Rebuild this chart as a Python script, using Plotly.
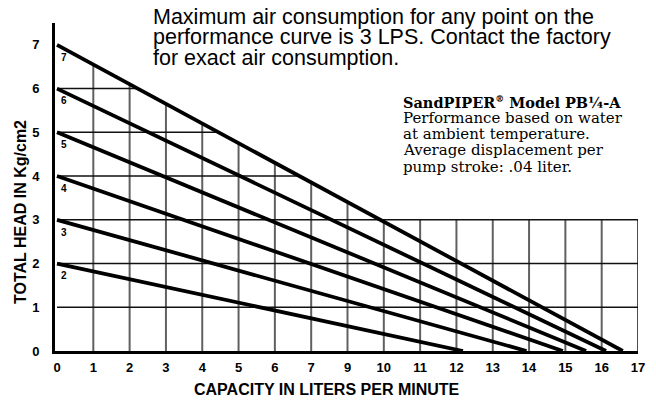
import plotly.graph_objects as go

# ---- data ----
curve_labels = ["2", "3", "4", "5", "6", "7"]
head_at_zero_flow = [2, 3, 4, 5, 6, 7]                            # Kg/cm2 at x = 0
flow_at_zero_head = [11.18, 12.93, 13.93, 14.57, 15.12, 15.58]    # axis position where curve hits 0
x_tick_positions = list(range(17))
x_tick_labels = ["0", "1", "2", "3", "4", "5", "6", "7", "9", "10", "11",
                 "12", "13", "14", "15", "16", "17"]
y_tick_values = [0, 1, 2, 3, 4, 5, 6, 7]

note_lines = ["Maximum air consumption for any point on the",
              "performance curve is 3 LPS. Contact the factory",
              "for exact air consumption."]
model_title = "<b>SandPIPER<sup><span style='font-size:9px'>®</span></sup> Model PB¼-A</b>"
model_lines = ["Performance based on water",
               "at ambient temperature.",
               "Average displacement per",
               "pump stroke: .04 liter."]

X_MAX = 16
Y_MAX = 7.5
L, R, T, B = 55, 18, 23, 49
W, H = 656, 400
PW, PH = W - L - R, H - T - B
SANS = "Liberation Sans, Arial"

fig = go.Figure()

for lab, h0, q0 in zip(curve_labels, head_at_zero_flow, flow_at_zero_head):
    fig.add_trace(go.Scatter(x=[0, q0], y=[h0, 0], mode="lines",
                             line=dict(color="black", width=3.8),
                             showlegend=False, hoverinfo="skip"))
    fig.add_annotation(x=0.2, y=h0 - 0.28, xref="x", yref="y", text=f"<b>{lab}</b>",
                       showarrow=False, font=dict(size=10, color="black", family=SANS))

# top curve defines where the grid is clipped above 3
top_h, top_q = head_at_zero_flow[-1], flow_at_zero_head[-1]

def top_curve(x):
    return top_h * (1 - x / top_q)

vgrid = dict(color="#606060", width=2)
hgrid = dict(color="#111111", width=1.5)
shapes = []
for xv in range(1, X_MAX):
    ytop = max(3, top_curve(xv))
    shapes.append(dict(type="line", xref="x", yref="y", x0=xv, x1=xv, y0=0, y1=ytop,
                       line=vgrid, layer="below"))
shapes.append(dict(type="line", xref="x", yref="y", x0=X_MAX, x1=X_MAX, y0=0, y1=3,
                   line=hgrid, layer="below"))
for yv in range(1, 7):
    x1 = X_MAX if yv <= 3 else top_q * (1 - yv / top_h)
    shapes.append(dict(type="line", xref="x", yref="y", x0=0, x1=x1, y0=yv, y1=yv,
                       line=hgrid, layer="below"))

def py(px):
    return (H - B - px) / PH

def pxx(px):
    return (px - L) / PW

annos = []
for i, line in enumerate(note_lines):
    annos.append(dict(x=pxx(151), y=py(17 + 20.3 * i), xref="paper", yref="paper",
                      xanchor="left", yanchor="middle", text=line, showarrow=False,
                      font=dict(size=21.5, color="black", family=SANS)))
annos.append(dict(x=pxx(401), y=py(102), xref="paper", yref="paper",
                  xanchor="left", yanchor="middle", text=model_title, showarrow=False,
                  font=dict(size=14.5, color="black", family="DejaVu Serif")))
for i, line in enumerate(model_lines):
    annos.append(dict(x=pxx(401), y=py(118 + 16.2 * i), xref="paper", yref="paper",
                      xanchor="left", yanchor="middle", text=line, showarrow=False,
                      font=dict(size=15, color="black", family="DejaVu Serif")))
annos.append(dict(x=pxx(20), y=py(212), xref="paper", yref="paper", textangle=-90,
                  xanchor="center", yanchor="middle", text="<b>TOTAL HEAD IN Kg/cm2</b>",
                  showarrow=False, font=dict(size=16, color="black", family=SANS)))
annos.append(dict(x=pxx(327), y=py(389), xref="paper", yref="paper",
                  xanchor="center", yanchor="middle", text="<b>CAPACITY IN LITERS PER MINUTE</b>",
                  showarrow=False, font=dict(size=16, color="black", family=SANS)))

for a in annos:
    fig.add_annotation(**a)

tickfont = dict(size=13, color="black", family=SANS, weight="bold")
fig.update_layout(
    width=W, height=H,
    margin=dict(l=L, r=R, t=T, b=B, pad=0),
    paper_bgcolor="white", plot_bgcolor="white",
    shapes=shapes,
    xaxis=dict(range=[-0.055, X_MAX], tickvals=x_tick_positions, ticktext=x_tick_labels,
               showgrid=False, zeroline=False, showline=True, linecolor="black",
               linewidth=3, ticks="", ticklabelstandoff=2, tickfont=tickfont),
    yaxis=dict(range=[0, Y_MAX], tickvals=y_tick_values,
               showgrid=False, zeroline=False, showline=True, linecolor="black",
               linewidth=3, ticks="", ticklabelstandoff=10, tickfont=tickfont),
)

fig.write_html("out.html", config={"displayModeBar": False},
               post_script="document.body.style.margin='0';document.body.style.overflow='hidden';")
